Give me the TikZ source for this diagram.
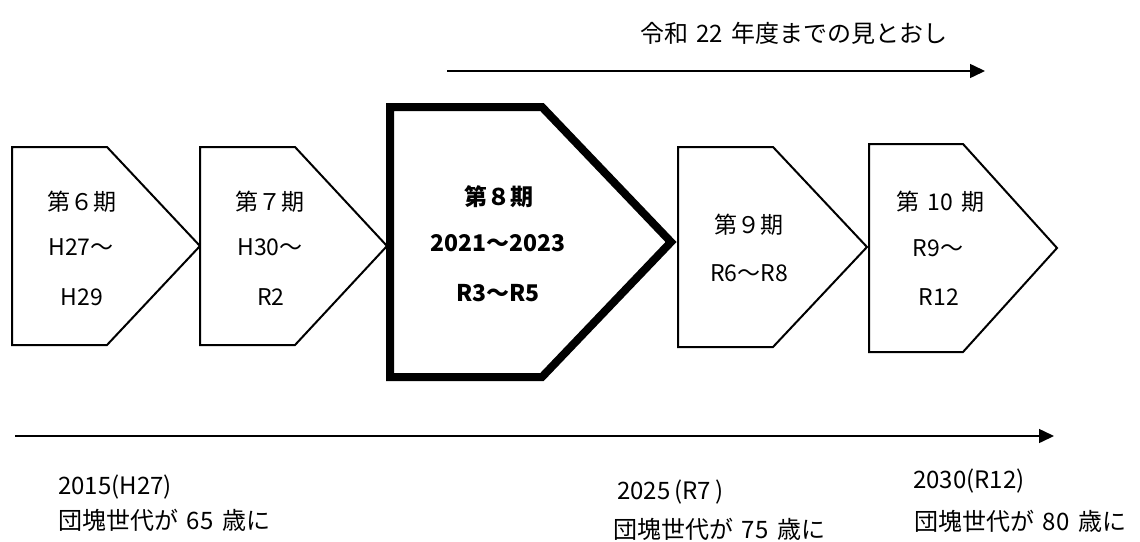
\documentclass[tikz,border=0pt]{standalone}
\usepackage{fontspec}
\usepackage{tikz}
\usetikzlibrary{arrows.meta}
\newfontfamily\jp[WordSpace = 1.6]{Noto Sans CJK JP}
\tikzstyle{timeline} = [x = 1pt, y = -1pt]
\tikzstyle{periodStyle} = [color=black, fill=white, line width = 2pt, line join = miter]
\tikzstyle{currentPeriodStyle} = [periodStyle, line width = 8pt]
\tikzstyle{periodText} = [font=\jp\fontsize{23}{27}\selectfont, inner sep = 0pt]
\tikzstyle{currentText} = [font=\jp\bfseries\fontsize{23}{27}\selectfont, inner sep = 0pt]
\tikzstyle{noteText} = [font=\jp\fontsize{24}{28}\selectfont, inner sep = 0pt, anchor = west]
\tikzstyle{spanArrow} = [line width = 1.5pt, -{Triangle[length = 15pt, width = 14pt]}]
\newcommand{\periodBox}[6]{\filldraw [#1] (#2, #3) -- (#4, #3) -- (#5, {(#3 + #6) / 2}) -- (#4, #6) -- (#2, #6) -- cycle;}
\begin{document}
\begin{tikzpicture}[timeline]
  \useasboundingbox (0,0) rectangle (1140,541);
  % outlook
  \coordinate (outlookStart) at (447,71);
  \coordinate (outlookEnd) at (985,71);
  \draw [spanArrow] (outlookStart) -- (outlookEnd);
  \node [noteText, anchor = center] (outlookLabel) at (794,33) {令和 22 年度までの見とおし};

  % periods
  \periodBox{periodStyle}{12}{147}{107}{200}{345}
  \periodBox{periodStyle}{200}{147}{295}{387}{345}
  \periodBox{currentPeriodStyle}{390}{107}{542}{671}{377}
  \periodBox{periodStyle}{678}{147}{773}{867}{347}
  \periodBox{periodStyle}{869}{144}{963}{1057}{352}

  \node [periodText] (sixthName) at (82,202) {第６期};
  \node [periodText] (sixthFrom) at (81,247) {H27～};
  \node [periodText] (sixthTo) at (82,297) {H29};
  \node [periodText] (seventhName) at (270,202) {第７期};
  \node [periodText] (seventhFrom) at (270,247) {H30～};
  \node [periodText] (seventhTo) at (271,297) {R2};
  \node [currentText] (eighthName) at (499,197) {第８期};
  \node [currentText] (eighthYears) at (498,243) {2021～2023};
  \node [currentText] (eighthEra) at (498,293) {R3～R5};
  \node [periodText] (ninthName) at (749,225) {第９期};
  \node [periodText] (ninthEra) at (749,273) {R6～R8};
  \node [periodText] (tenthName) at (940,202) {第 10 期};
  \node [periodText] (tenthFrom) at (938,248) {R9～};
  \node [periodText] (tenthTo) at (939,297) {R12};

  % timeline
  \coordinate (lineStart) at (15,436);
  \coordinate (lineEnd) at (1054,436);
  \draw [spanArrow] (lineStart) -- (lineEnd);
  \node [noteText] (yearA) at (58,487) {2015(H27)};
  \node [noteText] (ageA) at (58,520) {団塊世代が 65 歳に};
  \node [noteText] (yearB) at (617,492) {2025\,(R7\,)};
  \node [noteText] (ageB) at (613,529) {団塊世代が 75 歳に};
  \node [noteText] (yearC) at (913,481) {2030(R12)};
  \node [noteText] (ageC) at (914,521) {団塊世代が 80 歳に};
\end{tikzpicture}
\end{document}
